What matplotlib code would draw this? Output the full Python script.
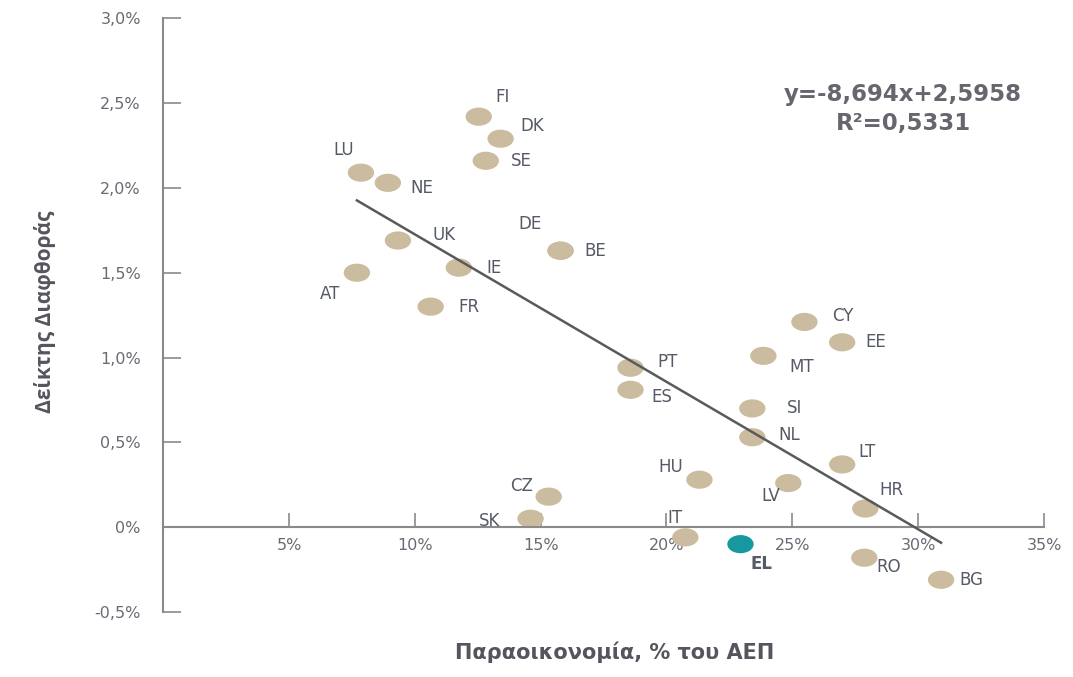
import numpy as np
import matplotlib.pyplot as plt
from matplotlib.path import Path
from matplotlib.transforms import Affine2D
from matplotlib.ticker import FuncFormatter

plt.rcParams['font.family'] = ['DejaVu Sans']

countries = ["FI", "DK", "SE", "LU", "NE", "UK", "DE", "BE", "IE", "AT", "FR",
             "CY", "EE", "MT", "PT", "ES", "SI", "NL", "LT", "HU", "LV", "CZ",
             "HR", "SK", "IT", "EL", "RO", "BG"]
shadow = [12.54, 13.41, 12.82, 7.86, 8.93, 9.33, 15.79, 15.79, 11.75, 7.70, 10.63,
          25.48, 26.98, 23.85, 18.57, 18.57, 23.41, 23.41, 26.98, 21.31, 24.84, 15.32,
          27.90, 14.60, 20.75, 22.94, 27.86, 30.91]
corruption = [2.42, 2.29, 2.16, 2.09, 2.03, 1.69, 1.63, 1.63, 1.53, 1.50, 1.30,
              1.21, 1.09, 1.01, 0.94, 0.81, 0.70, 0.53, 0.37, 0.28, 0.26, 0.18,
              0.11, 0.05, -0.06, -0.10, -0.18, -0.31]
slope, intercept, r2 = -8.694, 2.5958, 0.5331

# label offsets in points (dx, dy, ha)
offsets = {
    "FI": (12, 14, "left"), "DK": (14, 9, "left"), "SE": (18, 0, "left"),
    "LU": (-5, 16, "right"), "NE": (16, -4, "left"), "UK": (25, 4, "left"),
    "DE": (-30, 19, "left"), "BE": (17, 0, "left"), "IE": (20, 0, "left"),
    "AT": (-12, -15, "right"), "FR": (20, 0, "left"), "CY": (20, 4, "left"),
    "EE": (17, 0, "left"), "MT": (19, -8, "left"), "PT": (19, 4, "left"),
    "ES": (15, -5, "left"), "SI": (25, 0, "left"), "NL": (19, 2, "left"),
    "LT": (12, 9, "left"), "HU": (-12, 9, "right"), "LV": (-6, -9, "right"),
    "CZ": (-11, 8, "right"), "HR": (10, 13, "left"), "SK": (-22, -2, "right"),
    "IT": (-13, 14, "left"), "EL": (15, -14, "center"), "RO": (9, -7, "left"),
    "BG": (13, 0, "left"),
}

text_col = "#565a66"
axis_col = "#8a8a8a"
dot_col = "#cbbb9f"
el_col = "#17979f"

# horizontally stretched dot
ellipse = Path.unit_circle().transformed(Affine2D().scale(1.45, 1.0))

fig = plt.figure(figsize=(10.73, 6.77), dpi=100)
ax = fig.add_axes([0.152, 0.096, 0.821, 0.877])

colors = [el_col if c == "EL" else dot_col for c in countries]
ax.scatter(shadow, corruption, s=360, marker=ellipse, c=colors, linewidths=0, zorder=2)

xs = np.array([min(shadow), max(shadow)])
ax.plot(xs, slope * xs / 100 + intercept, color="#5a5a5a", lw=1.8, zorder=3)

for c, x, y in zip(countries, shadow, corruption):
    dx, dy, ha = offsets[c]
    ax.annotate(c, (x, y), xytext=(dx, dy), textcoords="offset points",
                ha=ha, va="center", fontsize=12, color=text_col,
                fontweight="bold" if c == "EL" else "normal", zorder=4)

ax.text(0.84, 0.872, "y=-8,694x+2,5958", transform=ax.transAxes, ha="center",
        va="center", fontsize=16.5, fontweight="bold", color="#66666e")
ax.text(0.84, 0.823, "R²=" + f"{r2:.4f}".replace(".", ","), transform=ax.transAxes,
        ha="center", va="center", fontsize=16.5, fontweight="bold", color="#66666e")

ax.set_xlim(0, 35)
ax.set_ylim(-0.5, 3.0)
ax.set_xticks([5, 10, 15, 20, 25, 30, 35])
ax.set_yticks(np.arange(-0.5, 3.01, 0.5))
ax.xaxis.set_major_formatter(FuncFormatter(lambda v, p: f"{v:.0f}%"))
ax.yaxis.set_major_formatter(FuncFormatter(
    lambda v, p: "0%" if abs(v) < 1e-9 else f"{v:.1f}%".replace(".", ",")))

for s in ["top", "right"]:
    ax.spines[s].set_visible(False)
ax.spines["bottom"].set_position(("data", 0))
for s in ["left", "bottom"]:
    ax.spines[s].set_color(axis_col)
    ax.spines[s].set_linewidth(1.5)
ax.tick_params(axis="y", direction="in", length=13, width=1.2, color=axis_col,
               pad=16, labelsize=11.5, labelcolor="#6a6a74")
ax.tick_params(axis="x", direction="in", length=10, width=1.2, color=axis_col,
               pad=8, labelsize=11.5, labelcolor="#6a6a74")

fig.text(0.573, 0.02, "Παραοικονομία, % του ΑΕΠ", ha="center", va="bottom",
         fontsize=15, fontweight="bold", color="#55555e")
fig.text(0.042, 0.54, "Δείκτης Διαφθοράς", ha="center", va="center", rotation=90,
         fontsize=15, fontweight="bold", color="#55555e",
         family=["Open Sans", "DejaVu Sans"])

fig.savefig("out.png", dpi=100)
